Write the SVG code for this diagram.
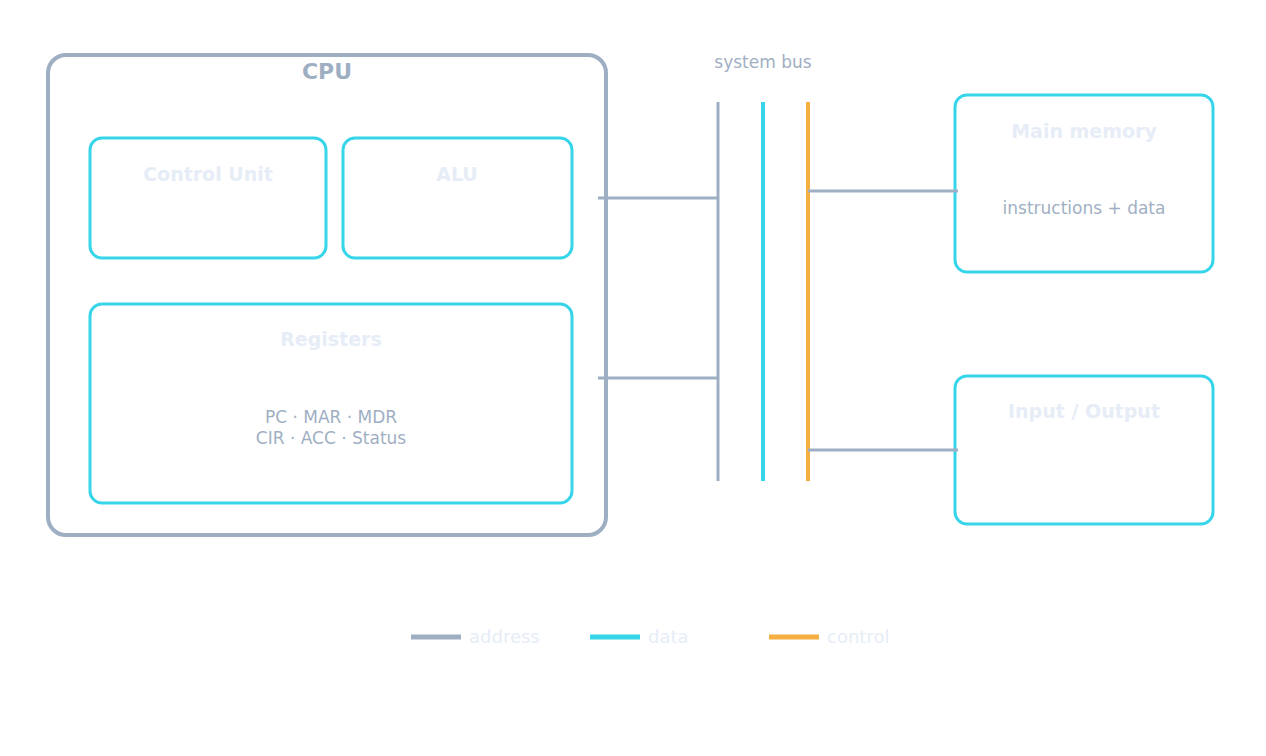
<svg xmlns="http://www.w3.org/2000/svg" width="1266" height="756" viewBox="0 0 1266 756">
<style>
text{font-family:"DejaVu Sans",sans-serif;text-anchor:middle}
.box{fill:#fff;stroke:#36d5ea;stroke-width:3}
.t{fill:#e6edf7;font-size:19px;font-weight:bold}
.s{fill:#9fafc3;font-size:17px}
.a{stroke:#9fafc3;stroke-width:3;fill:none}
.d{stroke:#36d5ea;stroke-width:4;fill:none}
.c{stroke:#f4ae42;stroke-width:4;fill:none}
</style>
<rect width="1266" height="756" fill="#fff"/>
<g id="cpu"><rect x="48" y="55" width="558" height="480" rx="18" fill="#fff" stroke="#9fafc3" stroke-width="4"/><text x="327" y="79" font-size="22" font-weight="bold" fill="#9fafc3">CPU</text></g>
<g id="cu"><rect class="box" x="90" y="138" width="236" height="120" rx="12"/><text class="t" x="208" y="181">Control Unit</text></g>
<g id="alu"><rect class="box" x="343" y="138" width="229" height="120" rx="12"/><text class="t" x="457" y="181">ALU</text></g>
<g id="reg"><rect class="box" x="90" y="304" width="482" height="199" rx="12"/><text class="t" x="331" y="346">Registers</text><text class="s" x="331" y="423">PC · MAR · MDR</text><text class="s" x="331" y="444">CIR · ACC · Status</text></g>
<g id="mem"><rect class="box" x="955" y="95" width="258" height="177" rx="12"/><text class="t" x="1084" y="138">Main memory</text><text class="s" x="1084" y="214">instructions + data</text></g>
<g id="io"><rect class="box" x="955" y="376" width="258" height="148" rx="12"/><text class="t" x="1084" y="418">Input / Output</text></g>
<g id="bus"><text class="s" x="763" y="68">system bus</text>
<line class="a" x1="718" y1="102" x2="718" y2="481"/><line class="d" x1="763" y1="102" x2="763" y2="481"/><line class="c" x1="808" y1="102" x2="808" y2="481"/></g>
<g id="connectors">
<line class="a" x1="598" y1="198" x2="718" y2="198"/>
<line class="a" x1="598" y1="378" x2="718" y2="378"/>
<line class="a" x1="808" y1="191" x2="958" y2="191"/>
<line class="a" x1="808" y1="450" x2="958" y2="450"/>
</g>
<g id="legend">
<line x1="411" y1="637" x2="461" y2="637" stroke="#9fafc3" stroke-width="5"/><text x="469" y="643" fill="#e6edf7" font-size="18" style="text-anchor:start">address</text>
<line x1="590" y1="637" x2="640" y2="637" stroke="#36d5ea" stroke-width="5"/><text x="648" y="643" fill="#e6edf7" font-size="18" style="text-anchor:start">data</text>
<line x1="769" y1="637" x2="819" y2="637" stroke="#f4ae42" stroke-width="5"/><text x="827" y="643" fill="#e6edf7" font-size="18" style="text-anchor:start">control</text>
</g>
</svg>
